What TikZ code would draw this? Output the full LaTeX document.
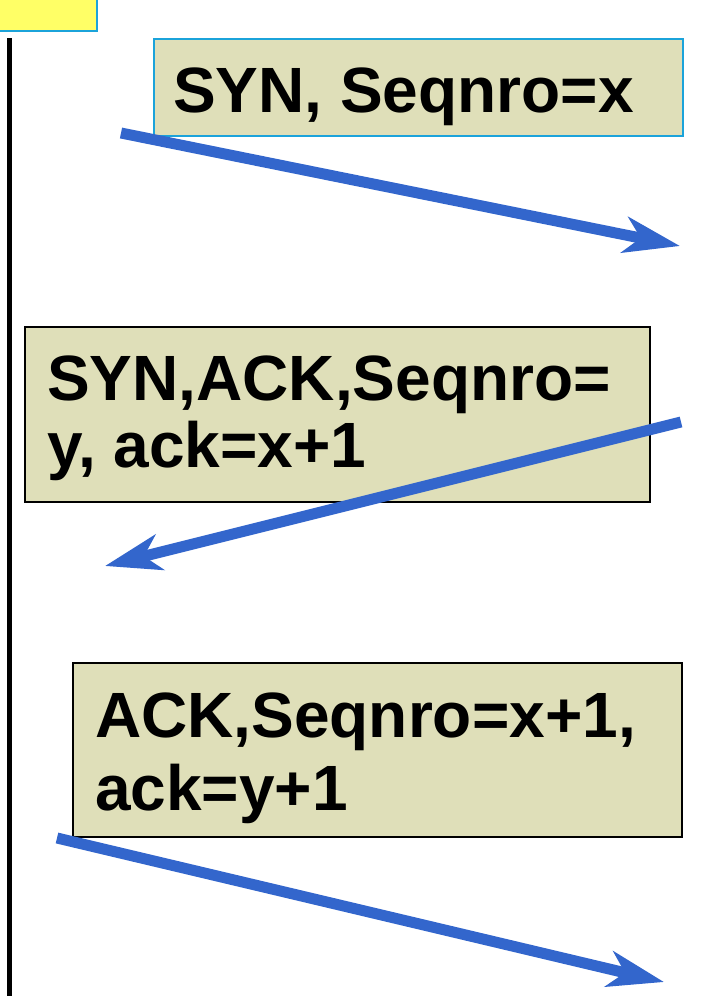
\documentclass[tikz,border=0pt]{standalone}
\usepackage{fontspec}
\setmainfont{Liberation Sans}
\usetikzlibrary{arrows.meta,positioning}
\definecolor{handblue}{HTML}{3366CC}
\definecolor{handbox}{HTML}{DFDFB9}
\definecolor{handyellow}{HTML}{FFFF66}
\definecolor{handcyan}{HTML}{1BA3DA}

\begin{document}
\begin{tikzpicture}[x=1pt,y=-1pt,
    msgbox/.style={draw=black,line width=1.5pt,fill=handbox,anchor=north west,inner sep=0pt},
    msgtext/.style={anchor=base west,inner sep=0pt,align=left,
      font=\fontsize{64}{70}\selectfont\bfseries},
    segment/.style={handblue,line width=11pt,-{Stealth[length=56pt,width=36pt,inset=16pt]}}]
    \path[use as bounding box] (0,0) rectangle (705,996);

    % Host box, cut off by the top edge, and its time line.
    \node[fill=handyellow,draw=handcyan,line width=2pt,inner sep=0pt,
      minimum width=110pt,minimum height=45pt,anchor=south east] (client) at (98,32) {};
    \coordinate (life top) at (9,38);
    \coordinate (life end) at (9,998);
    \draw[line width=5pt] (life top) -- (life end);

    % The three handshake segments with their headers (base = last line).
    \node[msgbox,draw=handcyan,minimum width=529pt,minimum height=97pt] (synbox) at (153,38) {};
    \node[msgtext] (syntext) at (173,112) {SYN, Seqnro=x};

    \node[msgbox,minimum width=625pt,minimum height=175pt] (synackbox) at (24,326) {};
    \node[msgtext] (synacktext) at (47,467) {SYN,ACK,Seqnro=\\[-3pt]y, ack=x+1};

    \node[msgbox,minimum width=609pt,minimum height=174pt] (ackbox) at (72,662) {};
    \node[msgtext] (acktext) at (95,810) {ACK,Seqnro=x+1,\\[3pt]ack=y+1};

    % Arrows run over the boxes.
    \coordinate (syn tail) at (121,133);
    \coordinate (syn head) at (680,246);
    \coordinate (synack tail) at (681,422);
    \coordinate (synack head) at (105,566);
    \coordinate (ack tail) at (57,838);
    \coordinate (ack head) at (664,982);
    \foreach \seg in {syn,synack,ack}
      \draw[segment] (\seg\space tail) -- (\seg\space head);
  \end{tikzpicture}
\end{document}
